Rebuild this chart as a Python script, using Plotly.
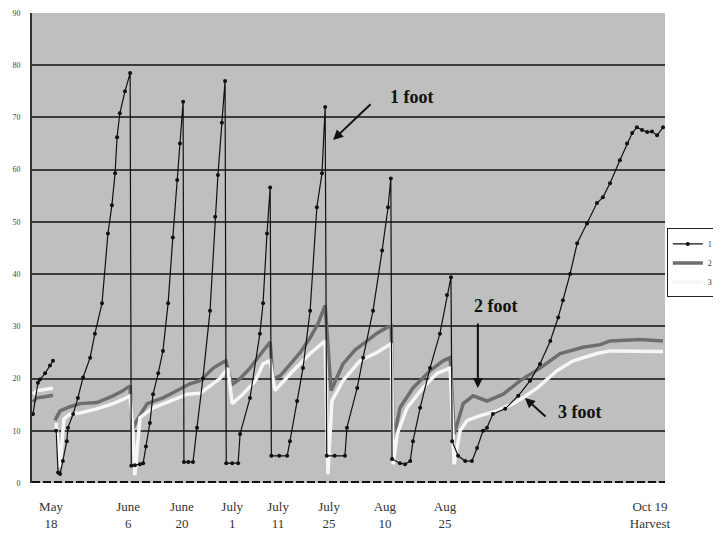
import plotly.graph_objects as go

# ---- data (x = reading position along the season, y = soil moisture tension) ----
tick_pos = [4.8, 24.3, 37.9, 50.6, 62.2, 75.1, 89.2, 104.4, 156.2]
tick_text = ["May<br>18", "June<br>6", "June<br>20", "July<br>1", "July<br>11",
             "July<br>25", "Aug<br>10", "Aug<br>25", "Oct 19<br>Harvest"]
y_ticks = [0, 10, 20, 30, 40, 50, 60, 70, 80, 90]

x_1ft = [0.25, 1.5, 2.0, 3.3, 4.55, 5.3, None,
         6.1, 6.6, 7.1, 7.8, 8.8, 9.1, 10.4, 11.6, 12.9, 14.7, 15.9, 17.7, 19.2, 20.2, 21.0, 21.5, 22.2, 23.5, 24.8,
         25.1, 26.0, 27.3, 28.1, 28.8, 29.8, 30.6, 31.9, 33.1, 34.4, 35.6, 36.7, 37.4, 38.2,
         38.4, 39.5, 40.7, 41.7, 43.2, 45.0, 46.3, 47.0, 48.0, 48.8,
         49.1, 50.6, 52.1, 52.6, 55.1, 57.6, 58.4, 59.4, 60.2,
         60.5, 62.5, 64.5, 65.2, 67.0, 68.5, 70.3, 72.0, 73.3, 74.1,
         74.5, 76.5, 79.1, 79.6, 82.2, 83.7, 86.2, 88.5, 90.0, 90.7,
         91.0, 93.0, 94.3, 95.6, 96.3, 98.1, 100.6, 103.1, 104.9, 105.9,
         106.2, 107.7, 109.5, 111.2, 112.5, 114.0, 115.0, 116.5, 119.6, 122.9, 125.9, 128.4, 131.0, 133.0,
         134.2, 136.0, 137.8, 140.3, 142.8, 144.3, 146.1, 148.6, 150.4, 151.7, 152.9, 154.2, 155.5, 156.7,
         158.0, 159.5]
y_1ft = [13.2, 19.2, 19.8, 21.0, 22.5, 23.4, None,
         10.0, 2.0, 1.7, 4.2, 8.0, 10.6, 13.2, 16.3, 20.2, 24.0, 28.6, 34.4, 47.8, 53.2, 59.3, 66.2, 70.8, 75.0, 78.5,
         3.3, 3.4, 3.6, 3.8, 7.0, 11.5, 17.0, 21.0, 25.3, 34.4, 47.0, 58.0, 65.0, 73.0,
         4.0, 4.0, 4.0, 10.6, 20.0, 33.0, 51.0, 59.0, 69.0, 77.0,
         3.8, 3.8, 3.8, 9.4, 16.3, 28.6, 34.4, 47.8, 56.6,
         5.2, 5.2, 5.2, 8.0, 15.7, 22.0, 33.0, 52.8, 59.3, 72.0,
         5.2, 5.2, 5.2, 10.6, 18.2, 24.0, 33.0, 44.5, 52.8, 58.3,
         4.6, 3.8, 3.6, 4.2, 8.0, 14.4, 22.0, 28.6, 36.0, 39.4,
         8.0, 5.2, 4.2, 4.2, 6.7, 10.0, 10.6, 13.2, 14.2, 16.7, 19.6, 22.8, 27.2, 31.7,
         35.0, 40.0, 45.9, 49.7, 53.6, 54.7, 57.4, 61.8, 65.0, 67.0, 68.1, 67.6, 67.2, 67.3,
         66.6, 68.1]

x_2ft = [0.25, 1.26, 3.3, 5.3, None,
         5.8, 7.1, 9.6, 12.1, 16.4, 18.5, 20.5, 22.8, 24.8,
         25.3, 26.5, 29.1, 31.1, 33.1, 35.4, 37.4, 39.9, 42.5, 45.8, 47.5, 49.0,
         50.1, 50.8, 52.6, 55.1, 57.6, 60.2,
         60.9, 62.7, 66.0, 67.8, 70.3, 72.3, 74.1,
         75.6, 78.6, 81.7, 84.7, 87.2, 89.7, 90.8,
         91.3, 93.0, 96.3, 100.6, 103.9, 105.7,
         106.7, 109.0, 111.5, 115.0, 119.1, 123.4, 128.4, 133.5, 139.3, 143.6, 146.1, 153.7, 159.5]
y_2ft = [15.5, 16.3, 16.5, 16.8, None,
         12.0, 13.8, 14.6, 15.2, 15.4, 16.0, 16.7, 17.6, 18.6,
         10.0, 12.0, 15.2, 15.8, 16.3, 17.2, 18.0, 19.0, 19.6, 22.0, 22.8, 23.4,
         20.0, 19.0, 20.0, 22.0, 24.5, 27.0,
         20.0, 20.5, 23.4, 25.0, 27.8, 30.5, 34.0,
         17.7, 22.8, 25.5, 27.2, 28.7, 29.8, 30.0,
         8.0, 14.4, 18.2, 21.5, 23.4, 24.0,
         9.4, 15.2, 16.7, 15.7, 17.0, 19.6, 22.0, 24.8, 26.0, 26.5, 27.2, 27.5, 27.2]

x_3ft = [0.25, 1.26, 3.3, 5.3, None,
         6.1, 6.6, 7.1, 7.6, 8.1, 9.6, 12.1, 16.4, 20.5, 23.0, 24.8,
         25.5, 26.0, 27.3, 30.6, 34.9, 39.2, 42.5, 45.0, 47.5, 49.5,
         50.6, 53.3, 56.4, 58.4, 60.2,
         61.4, 66.0, 70.3, 74.1,
         74.8, 75.8, 78.6, 82.9, 87.2, 90.8,
         91.3, 92.3, 94.8, 98.8, 102.4, 105.7,
         106.7, 108.2, 110.0, 113.3, 117.6, 121.6, 124.1, 127.7, 132.7, 136.8, 142.8, 146.1, 159.5]
y_3ft = [17.0, 17.7, 17.9, 18.2, None,
         11.5, 7.0, 3.0, 8.0, 12.3, 13.2, 13.4, 14.2, 15.2, 16.0, 16.7,
         10.0, 1.5, 12.5, 14.4, 15.7, 17.0, 17.2, 18.6, 20.0, 22.0,
         15.2, 17.0, 19.5, 22.8, 23.4,
         17.7, 21.5, 24.8, 27.2,
         1.7, 15.7, 19.6, 23.4, 25.0, 26.7,
         3.6, 9.4, 14.4, 18.2, 21.0, 22.0,
         3.6, 10.0, 12.0, 12.9, 13.8, 15.2, 16.3, 18.2, 21.5, 23.4, 24.8, 25.3, 25.2]

assert len(x_1ft) == len(y_1ft) and len(x_2ft) == len(y_2ft) and len(x_3ft) == len(y_3ft)

fig = go.Figure()
fig.add_trace(go.Scatter(x=x_2ft, y=y_2ft, name="2 ft", mode="lines",
                         line=dict(color="#6e6e6e", width=3.5),
                         legendrank=2))
fig.add_trace(go.Scatter(x=x_3ft, y=y_3ft, name="3 ft", mode="lines",
                         line=dict(color="#f6f6f6", width=3.5),
                         legendrank=3))
fig.add_trace(go.Scatter(x=x_1ft, y=y_1ft, name="1 ft", mode="lines+markers",
                         line=dict(color="#111111", width=1.2),
                         marker=dict(color="#111111", size=4, symbol="circle"),
                         legendrank=1))

serif = "Liberation Serif, Times New Roman, serif"

ann = [
    dict(x=96.1, y=73.9, text="<b>1 foot</b>", showarrow=False),
    dict(x=117.3, y=33.9, text="<b>2 foot</b>", showarrow=False),
    dict(x=138.5, y=13.6, text="<b>3 foot</b>", showarrow=False),
    dict(x=76.1, y=65.7, text="", showarrow=True, ax=39, ay=-37),
    dict(x=112.7, y=18.2, text="", showarrow=True, ax=0, ay=-66),
    dict(x=124.6, y=16.3, text="", showarrow=True, ax=22, ay=20),
]
for a in ann:
    a.update(xref="x", yref="y", font=dict(family=serif, size=18, color="#111"),
             arrowhead=2, arrowsize=1, arrowwidth=2, arrowcolor="#111")

# the page body has an 8px margin, so the figure is 8px smaller than the window
fig.update_layout(
    width=713, height=531,
    margin=dict(l=24, r=56, t=5, b=56, autoexpand=False),
    paper_bgcolor="white",
    plot_bgcolor="#bfbfbf",
    font=dict(family=serif, color="#333"),
    annotations=ann,
    showlegend=True,
    legend=dict(xref="container", yref="container", x=0.924, y=0.52,
                xanchor="left", yanchor="middle",
                bgcolor="white", bordercolor="#222", borderwidth=1,
                font=dict(size=8, family=serif, color="#333"),
                itemwidth=30, tracegroupgap=0),
    shapes=[dict(type="line", xref="paper", x0=0, x1=1, yref="y", y0=0, y1=0,
                 line=dict(color="#111", width=4, dash="8px,3px"), layer="above")],
)
fig.update_xaxes(range=[0, 160], showgrid=False, zeroline=False, automargin=False,
                 tickmode="array", tickvals=tick_pos, ticktext=tick_text,
                 tickfont=dict(size=13, family=serif, color="#333"),
                 ticks="", ticklabelstandoff=14, showline=False)
fig.update_yaxes(range=[0, 90], tickmode="array", tickvals=y_ticks, automargin=False,
                 showgrid=True, gridcolor="#3c3c3c", gridwidth=1.5, zeroline=False,
                 tickfont=dict(size=8, family=serif, color="#444"),
                 ticks="", ticklabelstandoff=8,
                 showline=True, linecolor="#333", linewidth=2)

fig.write_html("out.html")
